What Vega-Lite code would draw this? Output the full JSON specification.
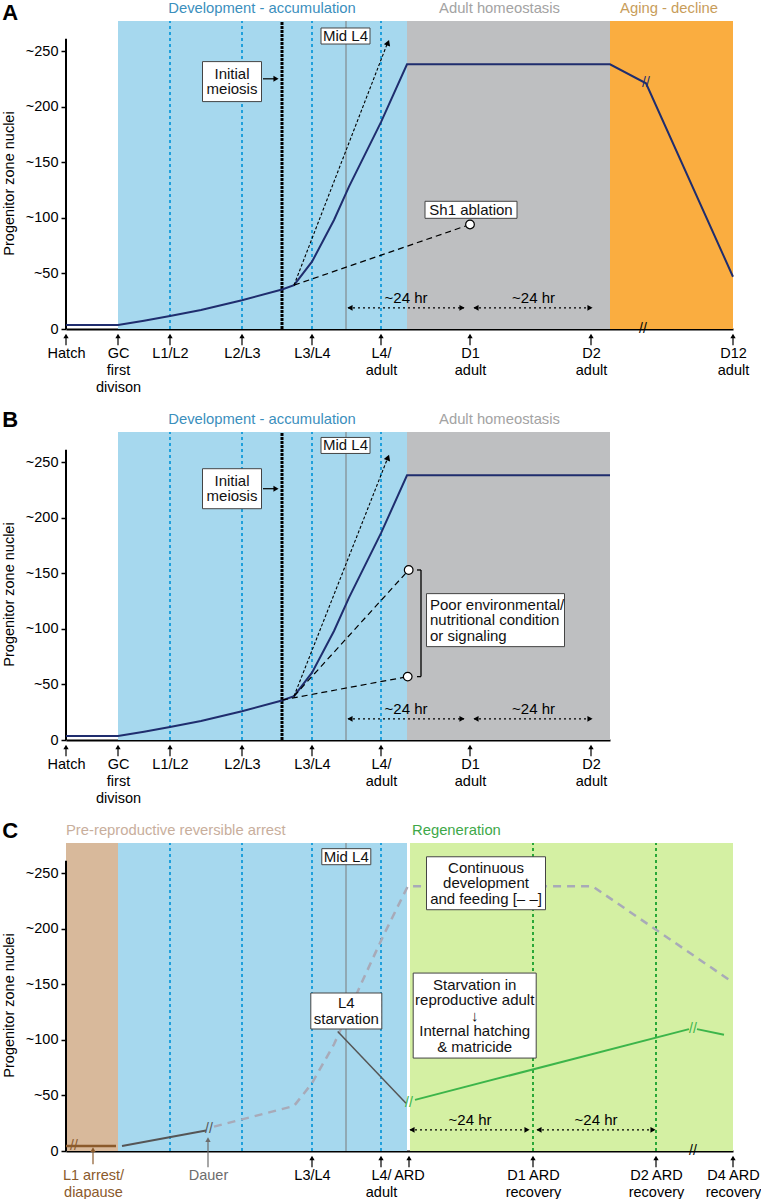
{
"$schema": "https://vega.github.io/schema/vega-lite/v6.json",
"padding": {"top": 0, "left": 1, "right": 0, "bottom": 0},
"spacing": 14,
"resolve": {"scale": {"x": "independent", "y": "independent", "color": "independent"}},
"config": {
  "view": {"stroke": null},
  "font": "Liberation Sans, DejaVu Sans",
  "axis": {"labelFont": "Liberation Sans, DejaVu Sans", "labelFontSize": 14.5, "labelColor": "#000", "titleFont": "Liberation Sans", "titleFontSize": 14.5, "titleFontWeight": "normal", "titleColor": "#000", "domainColor": "#000", "domainWidth": 2, "tickColor": "#000", "grid": false, "zindex": 1},
  "text": {"font": "Liberation Sans, DejaVu Sans"}
},
"vconcat": [
{
  "width": 667, "height": 308,
  "title": {"text": "A", "anchor": "start", "frame": "bounds", "fontSize": 22, "fontWeight": "bold", "font": "Liberation Sans", "color": "#000", "offset": 0, "dy": 24, "dx": 1},
  "layer": [
    {"data": {"values": [{"x": 52, "x2": 341, "stage": "dev"}, {"x": 341, "x2": 544, "stage": "adult"}, {"x": 544, "x2": 667, "stage": "aging"}]},
     "mark": {"type": "rect"},
     "encoding": {
       "x": {"field": "x", "type": "quantitative", "scale": {"domain": [0, 667], "nice": false, "zero": false},
             "axis": {"title": null, "values": [0, 52, 104, 176, 246, 315, 404, 525, 667], "labelExpr": "datum.value == 0 ? 'Hatch' : datum.value == 52 ? ['GC','first','divison'] : datum.value == 104 ? 'L1/L2' : datum.value == 176 ? 'L2/L3' : datum.value == 246 ? 'L3/L4' : datum.value == 315 ? ['L4/','adult'] : datum.value == 404 ? ['D1','adult'] : datum.value == 525 ? ['D2','adult'] : ['D12','adult']", "ticks": false, "labelOverlap": false, "labelFlush": false, "labelBound": false, "labelPadding": 17, "labelLineHeight": 17, "labelAngle": 0}},
       "x2": {"field": "x2"},
       "y": {"datum": 0, "type": "quantitative", "scale": {"domain": [0, 277], "nice": false},
             "axis": {"title": "Progenitor zone nuclei", "values": [0, 50, 100, 150, 200, 250], "labelExpr": "datum.value == 0 ? '0' : '~' + datum.value", "domain": false, "tickSize": 5, "tickWidth": 1.5, "labelPadding": 3, "titlePadding": 9, "titleY": 162}},
       "y2": {"datum": 277},
       "color": {"field": "stage", "type": "nominal", "scale": {"domain": ["arrest", "dev", "adult", "aging", "regen"], "range": ["#d8b99b", "#a6d8ee", "#bebfc1", "#faad40", "#d4f0a3"]}, "legend": null}
     }},
    {"data": {"values": [{"x": 104}, {"x": 176}, {"x": 246}, {"x": 315}]},
     "mark": {"type": "rule", "color": "#1fa0dc", "strokeWidth": 2, "strokeDash": [3, 3]},
     "encoding": {"x": {"field": "x", "type": "quantitative"}, "y": {"datum": 0}, "y2": {"datum": 277}}},
    {"data": {"values": [{"x": 216}]},
     "mark": {"type": "rule", "color": "#000", "strokeWidth": 3, "strokeDash": [3, 1]},
     "encoding": {"x": {"field": "x", "type": "quantitative"}, "y": {"datum": 0}, "y2": {"datum": 277}}},
    {"data": {"values": [{"x": 280}]},
     "mark": {"type": "rule", "color": "#7a7a7a", "strokeWidth": 1},
     "encoding": {"x": {"field": "x", "type": "quantitative"}, "y": {"datum": 0}, "y2": {"datum": 277}}},
    {"data": {"values": [{}]},
     "mark": {"type": "rule", "color": "#000", "strokeWidth": 2},
     "encoding": {"x": {"datum": 0}, "y": {"datum": 0}, "y2": {"datum": 261}}},
    {"data": {"values": [{"x": 0}, {"x": 52}, {"x": 104}, {"x": 176}, {"x": 246}, {"x": 315}, {"x": 404}, {"x": 525}, {"x": 667}]},
     "mark": {"type": "rule", "color": "#000", "strokeWidth": 1.2},
     "encoding": {"x": {"field": "x", "type": "quantitative"}, "y": {"datum": -14.7}, "y2": {"datum": -6.5}}},
    {"data": {"values": [{"x": 0}, {"x": 52}, {"x": 104}, {"x": 176}, {"x": 246}, {"x": 315}, {"x": 404}, {"x": 525}, {"x": 667}]},
     "mark": {"type": "point", "shape": "triangle-up", "size": 28, "filled": true, "color": "#000", "opacity": 1},
     "encoding": {"x": {"field": "x", "type": "quantitative"}, "y": {"datum": -6.3}}},
    {"data": {"values": [{"x": 0, "y": 3.5}, {"x": 52, "y": 3.5}, {"x": 78, "y": 7.5}, {"x": 104, "y": 11.7}, {"x": 135, "y": 17}, {"x": 176, "y": 25.9}, {"x": 216, "y": 35.5}, {"x": 228, "y": 39.4}, {"x": 246, "y": 60.5}, {"x": 268, "y": 98}, {"x": 283, "y": 128}, {"x": 315, "y": 186}, {"x": 341, "y": 238}, {"x": 544, "y": 238}, {"x": 580, "y": 221}, {"x": 667, "y": 47}]},
     "mark": {"type": "line", "color": "#1f2d6e", "strokeWidth": 2},
     "encoding": {"x": {"field": "x", "type": "quantitative"}, "y": {"field": "y", "type": "quantitative"}}},
    {"data": {"values": [{"x": 228, "y": 39.4, "x2": 321, "y2": 256}]},
     "mark": {"type": "rule", "color": "#000", "strokeWidth": 1.1, "strokeDash": [3, 2]},
     "encoding": {"x": {"field": "x", "type": "quantitative"}, "y": {"field": "y", "type": "quantitative"}, "x2": {"field": "x2"}, "y2": {"field": "y2"}}},
    {"data": {"values": [{"x": 228, "y": 39.4, "x2": 404, "y2": 94}]},
     "mark": {"type": "rule", "color": "#000", "strokeWidth": 1.2, "strokeDash": [6, 4]},
     "encoding": {"x": {"field": "x", "type": "quantitative"}, "y": {"field": "y", "type": "quantitative"}, "x2": {"field": "x2"}, "y2": {"field": "y2"}}},
    {"data": {"values": [{"x": 322, "y": 257.5}]},
     "mark": {"type": "point", "shape": "triangle-up", "angle": 21, "size": 45, "filled": true, "color": "#000", "opacity": 1},
     "encoding": {"x": {"field": "x", "type": "quantitative"}, "y": {"field": "y", "type": "quantitative"}}},
    {"data": {"values": [{"x": 404, "y": 94}]},
     "mark": {"type": "point", "shape": "circle", "size": 75, "filled": true, "fill": "#fff", "stroke": "#000", "strokeWidth": 1.2, "opacity": 1},
     "encoding": {"x": {"field": "x", "type": "quantitative"}, "y": {"field": "y", "type": "quantitative"}}},
    {"data": {"values": [{"x": 282, "x2": 398, "y": 19}, {"x": 408, "x2": 526, "y": 19}]},
     "mark": {"type": "rule", "color": "#000", "strokeWidth": 1.2, "strokeDash": [2, 3]},
     "encoding": {"x": {"field": "x", "type": "quantitative"}, "x2": {"field": "x2"}, "y": {"field": "y", "type": "quantitative"}}},
    {"data": {"values": [{"x": 284, "y": 19}, {"x": 410, "y": 19}]},
     "mark": {"type": "point", "shape": "triangle-left", "size": 35, "filled": true, "color": "#000", "opacity": 1},
     "encoding": {"x": {"field": "x", "type": "quantitative"}, "y": {"field": "y", "type": "quantitative"}}},
    {"data": {"values": [{"x": 396, "y": 19}, {"x": 524, "y": 19}, {"x": 210, "y": 225}]},
     "mark": {"type": "point", "shape": "triangle-right", "size": 35, "filled": true, "color": "#000", "opacity": 1},
     "encoding": {"x": {"field": "x", "type": "quantitative"}, "y": {"field": "y", "type": "quantitative"}}},
    {"data": {"values": [{"x": 197, "x2": 209, "y": 225}]},
     "mark": {"type": "rule", "color": "#000", "strokeWidth": 1.2},
     "encoding": {"x": {"field": "x", "type": "quantitative"}, "x2": {"field": "x2"}, "y": {"field": "y", "type": "quantitative"}}},
    {"data": {"values": [{"x": 340, "y": 27.5, "label": "~24 hr"}, {"x": 467.5, "y": 27.5, "label": "~24 hr"}]},
     "mark": {"type": "text", "fontSize": 15, "baseline": "middle", "align": "center", "color": "#000"},
     "encoding": {"x": {"field": "x", "type": "quantitative"}, "y": {"field": "y", "type": "quantitative"}, "text": {"field": "label"}}},
    {"data": {"values": [{"x": 166, "y": 222.5}]},
     "mark": {"type": "point", "shape": "M-1,-0.678H1V0.678H-1Z", "size": 3481, "filled": true, "fill": "#fff", "stroke": "#444", "strokeWidth": 1, "opacity": 1},
     "encoding": {"x": {"field": "x", "type": "quantitative"}, "y": {"field": "y", "type": "quantitative"}}},
    {"data": {"values": [{"x": 279.5, "y": 263.5}]},
     "mark": {"type": "point", "shape": "M-1,-0.327H1V0.327H-1Z", "size": 2401, "filled": true, "fill": "#fff", "stroke": "#444", "strokeWidth": 1, "opacity": 1},
     "encoding": {"x": {"field": "x", "type": "quantitative"}, "y": {"field": "y", "type": "quantitative"}}},
    {"data": {"values": [{"x": 405, "y": 107.2}]},
     "mark": {"type": "point", "shape": "M-1,-0.185H1V0.185H-1Z", "size": 8464, "filled": true, "fill": "#fff", "stroke": "#444", "strokeWidth": 1, "opacity": 1},
     "encoding": {"x": {"field": "x", "type": "quantitative"}, "y": {"field": "y", "type": "quantitative"}}},
    {"data": {"values": [{"x": 279.5, "y": 263.5, "label": "Mid L4"}, {"x": 405, "y": 107.2, "label": "Sh1 ablation"}]},
     "mark": {"type": "text", "fontSize": 15, "baseline": "middle", "align": "center", "color": "#111"},
     "encoding": {"x": {"field": "x", "type": "quantitative"}, "y": {"field": "y", "type": "quantitative"}, "text": {"field": "label"}}},
    {"data": {"values": [{"x": 166, "y": 222.5, "label": "Initial\nmeiosis"}]},
     "mark": {"type": "text", "fontSize": 15, "lineBreak": "\n", "lineHeight": 15.5, "dy": -7.75, "baseline": "middle", "align": "center", "color": "#111"},
     "encoding": {"x": {"field": "x", "type": "quantitative"}, "y": {"field": "y", "type": "quantitative"}, "text": {"field": "label"}}},
    {"data": {"values": [{"x": 196, "label": "Development - accumulation"}]},
     "mark": {"type": "text", "fontSize": 14.8, "baseline": "middle", "align": "center", "color": "#3b8fbd"},
     "encoding": {"x": {"field": "x", "type": "quantitative"}, "y": {"datum": 288}, "text": {"field": "label"}}},
    {"data": {"values": [{"x": 433.5, "label": "Adult homeostasis"}]},
     "mark": {"type": "text", "fontSize": 14.8, "baseline": "middle", "align": "center", "color": "#a3a3a3"},
     "encoding": {"x": {"field": "x", "type": "quantitative"}, "y": {"datum": 288}, "text": {"field": "label"}}},
    {"data": {"values": [{"x": 603, "label": "Aging - decline"}]},
     "mark": {"type": "text", "fontSize": 14.8, "baseline": "middle", "align": "center", "color": "#c89d5a"},
     "encoding": {"x": {"field": "x", "type": "quantitative"}, "y": {"datum": 288}, "text": {"field": "label"}}},
    {"data": {"values": [{"x": 580, "y": 221, "label": "//"}]},
     "mark": {"type": "text", "fontSize": 14, "baseline": "middle", "align": "center", "color": "#1f2d6e"},
     "encoding": {"x": {"field": "x", "type": "quantitative"}, "y": {"field": "y", "type": "quantitative"}, "text": {"field": "label"}}},
    {"data": {"values": [{"x": 577, "y": 0, "label": "//"}]},
     "mark": {"type": "text", "fontSize": 14, "baseline": "middle", "align": "center", "color": "#000"},
     "encoding": {"x": {"field": "x", "type": "quantitative"}, "y": {"field": "y", "type": "quantitative"}, "text": {"field": "label"}}}
  ]
},
{
  "width": 544, "height": 308,
  "title": {"text": "B", "anchor": "start", "frame": "bounds", "fontSize": 22, "fontWeight": "bold", "font": "Liberation Sans", "color": "#000", "offset": 0, "dy": 20, "dx": 1},
  "layer": [
    {"data": {"values": [{"x": 52, "x2": 341, "stage": "dev"}, {"x": 341, "x2": 544, "stage": "adult"}]},
     "mark": {"type": "rect"},
     "encoding": {
       "x": {"field": "x", "type": "quantitative", "scale": {"domain": [0, 544], "nice": false, "zero": false},
             "axis": {"title": null, "values": [0, 52, 104, 176, 246, 315, 404, 525], "labelExpr": "datum.value == 0 ? 'Hatch' : datum.value == 52 ? ['GC','first','divison'] : datum.value == 104 ? 'L1/L2' : datum.value == 176 ? 'L2/L3' : datum.value == 246 ? 'L3/L4' : datum.value == 315 ? ['L4/','adult'] : datum.value == 404 ? ['D1','adult'] : ['D2','adult']", "ticks": false, "labelOverlap": false, "labelFlush": false, "labelBound": false, "labelPadding": 17, "labelLineHeight": 17, "labelAngle": 0}},
       "x2": {"field": "x2"},
       "y": {"datum": 0, "type": "quantitative", "scale": {"domain": [0, 277], "nice": false},
             "axis": {"title": "Progenitor zone nuclei", "values": [0, 50, 100, 150, 200, 250], "labelExpr": "datum.value == 0 ? '0' : '~' + datum.value", "domain": false, "tickSize": 5, "tickWidth": 1.5, "labelPadding": 3, "titlePadding": 9, "titleY": 162}},
       "y2": {"datum": 277},
       "color": {"field": "stage", "type": "nominal", "scale": {"domain": ["arrest", "dev", "adult", "aging", "regen"], "range": ["#d8b99b", "#a6d8ee", "#bebfc1", "#faad40", "#d4f0a3"]}, "legend": null}
     }},
    {"data": {"values": [{"x": 104}, {"x": 176}, {"x": 246}, {"x": 315}]},
     "mark": {"type": "rule", "color": "#1fa0dc", "strokeWidth": 2, "strokeDash": [3, 3]},
     "encoding": {"x": {"field": "x", "type": "quantitative"}, "y": {"datum": 0}, "y2": {"datum": 277}}},
    {"data": {"values": [{"x": 216}]},
     "mark": {"type": "rule", "color": "#000", "strokeWidth": 3, "strokeDash": [3, 1]},
     "encoding": {"x": {"field": "x", "type": "quantitative"}, "y": {"datum": 0}, "y2": {"datum": 277}}},
    {"data": {"values": [{"x": 280}]},
     "mark": {"type": "rule", "color": "#7a7a7a", "strokeWidth": 1},
     "encoding": {"x": {"field": "x", "type": "quantitative"}, "y": {"datum": 0}, "y2": {"datum": 277}}},
    {"data": {"values": [{}]},
     "mark": {"type": "rule", "color": "#000", "strokeWidth": 2},
     "encoding": {"x": {"datum": 0}, "y": {"datum": 0}, "y2": {"datum": 261}}},
    {"data": {"values": [{"x": 0}, {"x": 52}, {"x": 104}, {"x": 176}, {"x": 246}, {"x": 315}, {"x": 404}, {"x": 525}]},
     "mark": {"type": "rule", "color": "#000", "strokeWidth": 1.2},
     "encoding": {"x": {"field": "x", "type": "quantitative"}, "y": {"datum": -14.7}, "y2": {"datum": -6.5}}},
    {"data": {"values": [{"x": 0}, {"x": 52}, {"x": 104}, {"x": 176}, {"x": 246}, {"x": 315}, {"x": 404}, {"x": 525}]},
     "mark": {"type": "point", "shape": "triangle-up", "size": 28, "filled": true, "color": "#000", "opacity": 1},
     "encoding": {"x": {"field": "x", "type": "quantitative"}, "y": {"datum": -6.3}}},
    {"data": {"values": [{"x": 0, "y": 3.5}, {"x": 52, "y": 3.5}, {"x": 78, "y": 7.5}, {"x": 104, "y": 11.7}, {"x": 135, "y": 17}, {"x": 176, "y": 25.9}, {"x": 216, "y": 35.5}, {"x": 228, "y": 39.4}, {"x": 246, "y": 60.5}, {"x": 268, "y": 98}, {"x": 283, "y": 128}, {"x": 315, "y": 186}, {"x": 341, "y": 238}, {"x": 544, "y": 238}]},
     "mark": {"type": "line", "color": "#1f2d6e", "strokeWidth": 2},
     "encoding": {"x": {"field": "x", "type": "quantitative"}, "y": {"field": "y", "type": "quantitative"}}},
    {"data": {"values": [{"x": 228, "y": 39.4, "x2": 321, "y2": 252}]},
     "mark": {"type": "rule", "color": "#000", "strokeWidth": 1.1, "strokeDash": [3, 2]},
     "encoding": {"x": {"field": "x", "type": "quantitative"}, "y": {"field": "y", "type": "quantitative"}, "x2": {"field": "x2"}, "y2": {"field": "y2"}}},
    {"data": {"values": [{"x": 228, "y": 39.4, "x2": 342.7, "y2": 152.9}, {"x": 216, "y": 36, "x2": 341.7, "y2": 57}]},
     "mark": {"type": "rule", "color": "#000", "strokeWidth": 1.2, "strokeDash": [6, 4]},
     "encoding": {"x": {"field": "x", "type": "quantitative"}, "y": {"field": "y", "type": "quantitative"}, "x2": {"field": "x2"}, "y2": {"field": "y2"}}},
    {"data": {"values": [{"x": 322, "y": 254}]},
     "mark": {"type": "point", "shape": "triangle-up", "angle": 21, "size": 45, "filled": true, "color": "#000", "opacity": 1},
     "encoding": {"x": {"field": "x", "type": "quantitative"}, "y": {"field": "y", "type": "quantitative"}}},
    {"data": {"values": [{"x": 342.7, "y": 152.9}, {"x": 341.7, "y": 57}]},
     "mark": {"type": "point", "shape": "circle", "size": 75, "filled": true, "fill": "#fff", "stroke": "#000", "strokeWidth": 1.2, "opacity": 1},
     "encoding": {"x": {"field": "x", "type": "quantitative"}, "y": {"field": "y", "type": "quantitative"}}},
    {"data": {"values": [{"x": 355, "y": 57, "x2": 355, "y2": 152.9}, {"x": 351, "y": 152.9, "x2": 355, "y2": 152.9}, {"x": 351, "y": 57, "x2": 355, "y2": 57}]},
     "mark": {"type": "rule", "color": "#000", "strokeWidth": 1.3},
     "encoding": {"x": {"field": "x", "type": "quantitative"}, "y": {"field": "y", "type": "quantitative"}, "x2": {"field": "x2"}, "y2": {"field": "y2"}}},
    {"data": {"values": [{"x": 282, "x2": 398, "y": 19}, {"x": 408, "x2": 526, "y": 19}]},
     "mark": {"type": "rule", "color": "#000", "strokeWidth": 1.2, "strokeDash": [2, 3]},
     "encoding": {"x": {"field": "x", "type": "quantitative"}, "x2": {"field": "x2"}, "y": {"field": "y", "type": "quantitative"}}},
    {"data": {"values": [{"x": 284, "y": 19}, {"x": 410, "y": 19}]},
     "mark": {"type": "point", "shape": "triangle-left", "size": 35, "filled": true, "color": "#000", "opacity": 1},
     "encoding": {"x": {"field": "x", "type": "quantitative"}, "y": {"field": "y", "type": "quantitative"}}},
    {"data": {"values": [{"x": 396, "y": 19}, {"x": 524, "y": 19}, {"x": 210, "y": 226}]},
     "mark": {"type": "point", "shape": "triangle-right", "size": 35, "filled": true, "color": "#000", "opacity": 1},
     "encoding": {"x": {"field": "x", "type": "quantitative"}, "y": {"field": "y", "type": "quantitative"}}},
    {"data": {"values": [{"x": 197, "x2": 209, "y": 226}]},
     "mark": {"type": "rule", "color": "#000", "strokeWidth": 1.2},
     "encoding": {"x": {"field": "x", "type": "quantitative"}, "x2": {"field": "x2"}, "y": {"field": "y", "type": "quantitative"}}},
    {"data": {"values": [{"x": 340, "y": 27.5, "label": "~24 hr"}, {"x": 467.5, "y": 27.5, "label": "~24 hr"}]},
     "mark": {"type": "text", "fontSize": 15, "baseline": "middle", "align": "center", "color": "#000"},
     "encoding": {"x": {"field": "x", "type": "quantitative"}, "y": {"field": "y", "type": "quantitative"}, "text": {"field": "label"}}},
    {"data": {"values": [{"x": 166, "y": 226}]},
     "mark": {"type": "point", "shape": "M-1,-0.678H1V0.678H-1Z", "size": 3481, "filled": true, "fill": "#fff", "stroke": "#444", "strokeWidth": 1, "opacity": 1},
     "encoding": {"x": {"field": "x", "type": "quantitative"}, "y": {"field": "y", "type": "quantitative"}}},
    {"data": {"values": [{"x": 279.5, "y": 264.9}]},
     "mark": {"type": "point", "shape": "M-1,-0.327H1V0.327H-1Z", "size": 2401, "filled": true, "fill": "#fff", "stroke": "#444", "strokeWidth": 1, "opacity": 1},
     "encoding": {"x": {"field": "x", "type": "quantitative"}, "y": {"field": "y", "type": "quantitative"}}},
    {"data": {"values": [{"x": 429.5, "y": 107.8}]},
     "mark": {"type": "point", "shape": "M-1,-0.384H1V0.384H-1Z", "size": 19044, "filled": true, "fill": "#fff", "stroke": "#444", "strokeWidth": 1, "opacity": 1},
     "encoding": {"x": {"field": "x", "type": "quantitative"}, "y": {"field": "y", "type": "quantitative"}}},
    {"data": {"values": [{"x": 279.5, "y": 264.9, "label": "Mid L4"}]},
     "mark": {"type": "text", "fontSize": 15, "baseline": "middle", "align": "center", "color": "#111"},
     "encoding": {"x": {"field": "x", "type": "quantitative"}, "y": {"field": "y", "type": "quantitative"}, "text": {"field": "label"}}},
    {"data": {"values": [{"x": 166, "y": 226, "label": "Initial\nmeiosis"}]},
     "mark": {"type": "text", "fontSize": 15, "lineBreak": "\n", "lineHeight": 15.5, "dy": -7.75, "baseline": "middle", "align": "center", "color": "#111"},
     "encoding": {"x": {"field": "x", "type": "quantitative"}, "y": {"field": "y", "type": "quantitative"}, "text": {"field": "label"}}},
    {"data": {"values": [{"x": 364, "y": 107.5, "label": "Poor environmental/\nnutritional condition\nor signaling"}]},
     "mark": {"type": "text", "fontSize": 15, "lineBreak": "\n", "lineHeight": 15.5, "dy": -15.5, "baseline": "middle", "align": "left", "color": "#111"},
     "encoding": {"x": {"field": "x", "type": "quantitative"}, "y": {"field": "y", "type": "quantitative"}, "text": {"field": "label"}}},
    {"data": {"values": [{"x": 196, "label": "Development - accumulation"}]},
     "mark": {"type": "text", "fontSize": 14.8, "baseline": "middle", "align": "center", "color": "#3b8fbd"},
     "encoding": {"x": {"field": "x", "type": "quantitative"}, "y": {"datum": 288}, "text": {"field": "label"}}},
    {"data": {"values": [{"x": 433.5, "label": "Adult homeostasis"}]},
     "mark": {"type": "text", "fontSize": 14.8, "baseline": "middle", "align": "center", "color": "#a3a3a3"},
     "encoding": {"x": {"field": "x", "type": "quantitative"}, "y": {"datum": 288}, "text": {"field": "label"}}}
  ]
},
{
  "width": 667, "height": 308,
  "title": {"text": "C", "anchor": "start", "frame": "bounds", "fontSize": 22, "fontWeight": "bold", "font": "Liberation Sans", "color": "#000", "offset": 0, "dy": 20, "dx": 1},
  "layer": [
    {"data": {"values": [{"x": 0, "x2": 52, "stage": "arrest"}, {"x": 52, "x2": 341, "stage": "dev"}, {"x": 344, "x2": 667, "stage": "regen"}]},
     "mark": {"type": "rect"},
     "encoding": {
       "x": {"field": "x", "type": "quantitative", "scale": {"domain": [0, 667], "nice": false, "zero": false},
             "axis": {"title": null, "values": [27, 142, 246, 315, 343, 467, 590, 667], "labelExpr": "datum.value == 27 ? ['L1 arrest/','diapause'] : datum.value == 142 ? 'Dauer' : datum.value == 246 ? 'L3/L4' : datum.value == 315 ? ['L4/','adult'] : datum.value == 343 ? 'ARD' : datum.value == 467 ? ['D1 ARD','recovery'] : datum.value == 590 ? ['D2 ARD','recovery'] : ['D4 ARD','recovery']", "labelColor": {"condition": [{"test": "datum.value == 27", "value": "#8b5a2b"}, {"test": "datum.value == 142", "value": "#6d6d6d"}], "value": "#000"}, "ticks": false, "labelOverlap": false, "labelFlush": false, "labelBound": false, "labelPadding": 17, "labelLineHeight": 17, "labelAngle": 0}},
       "x2": {"field": "x2"},
       "y": {"datum": 0, "type": "quantitative", "scale": {"domain": [0, 277], "nice": false},
             "axis": {"title": "Progenitor zone nuclei", "values": [0, 50, 100, 150, 200, 250], "labelExpr": "datum.value == 0 ? '0' : '~' + datum.value", "domain": false, "tickSize": 5, "tickWidth": 1.5, "labelPadding": 3, "titlePadding": 9, "titleY": 162}},
       "y2": {"datum": 277},
       "color": {"field": "stage", "type": "nominal", "scale": {"domain": ["arrest", "dev", "adult", "aging", "regen"], "range": ["#d8b99b", "#a6d8ee", "#bebfc1", "#faad40", "#d4f0a3"]}, "legend": null}
     }},
    {"data": {"values": [{"x": 104}, {"x": 176}, {"x": 246}, {"x": 315}]},
     "mark": {"type": "rule", "color": "#1fa0dc", "strokeWidth": 2, "strokeDash": [3, 3]},
     "encoding": {"x": {"field": "x", "type": "quantitative"}, "y": {"datum": 0}, "y2": {"datum": 277}}},
    {"data": {"values": [{"x": 467}, {"x": 590}]},
     "mark": {"type": "rule", "color": "#2aa838", "strokeWidth": 2, "strokeDash": [3, 3]},
     "encoding": {"x": {"field": "x", "type": "quantitative"}, "y": {"datum": 0}, "y2": {"datum": 277}}},
    {"data": {"values": [{"x": 280}]},
     "mark": {"type": "rule", "color": "#7a7a7a", "strokeWidth": 1},
     "encoding": {"x": {"field": "x", "type": "quantitative"}, "y": {"datum": 0}, "y2": {"datum": 277}}},
    {"data": {"values": [{}]},
     "mark": {"type": "rule", "color": "#000", "strokeWidth": 2},
     "encoding": {"x": {"datum": 0}, "y": {"datum": 0}, "y2": {"datum": 261}}},
    {"data": {"values": [{"x": 246}, {"x": 315}, {"x": 343}, {"x": 467}, {"x": 590}, {"x": 667}]},
     "mark": {"type": "rule", "color": "#000", "strokeWidth": 1.2},
     "encoding": {"x": {"field": "x", "type": "quantitative"}, "y": {"datum": -14.7}, "y2": {"datum": -6.5}}},
    {"data": {"values": [{"x": 246}, {"x": 315}, {"x": 343}, {"x": 467}, {"x": 590}, {"x": 667}]},
     "mark": {"type": "point", "shape": "triangle-up", "size": 28, "filled": true, "color": "#000", "opacity": 1},
     "encoding": {"x": {"field": "x", "type": "quantitative"}, "y": {"datum": -6.3}}},
    {"data": {"values": [{"x": 27}]},
     "mark": {"type": "rule", "color": "#8b5a2b", "strokeWidth": 1.2},
     "encoding": {"x": {"field": "x", "type": "quantitative"}, "y": {"datum": -12}, "y2": {"datum": 1}}},
    {"data": {"values": [{"x": 27}]},
     "mark": {"type": "point", "shape": "triangle-up", "size": 28, "filled": true, "color": "#8b5a2b", "opacity": 1},
     "encoding": {"x": {"field": "x", "type": "quantitative"}, "y": {"datum": 1.2}}},
    {"data": {"values": [{"x": 142}]},
     "mark": {"type": "rule", "color": "#6d6d6d", "strokeWidth": 1.2},
     "encoding": {"x": {"field": "x", "type": "quantitative"}, "y": {"datum": -14.7}, "y2": {"datum": 10}}},
    {"data": {"values": [{"x": 142}]},
     "mark": {"type": "point", "shape": "triangle-up", "size": 28, "filled": true, "color": "#6d6d6d", "opacity": 1},
     "encoding": {"x": {"field": "x", "type": "quantitative"}, "y": {"datum": 10.2}}},
    {"data": {"values": [{"x": 148, "y": 21.9}, {"x": 228, "y": 40.5}, {"x": 246, "y": 61}, {"x": 268, "y": 96}, {"x": 297, "y": 154}, {"x": 317, "y": 193}, {"x": 341.7, "y": 238}, {"x": 526.7, "y": 238}, {"x": 663, "y": 154}]},
     "mark": {"type": "line", "color": "#a8aab8", "strokeWidth": 2.5, "strokeDash": [8, 6]},
     "encoding": {"x": {"field": "x", "type": "quantitative"}, "y": {"field": "y", "type": "quantitative"}}},
    {"data": {"values": [{"x": 0, "y": 4.5}, {"x": 50, "y": 4.5}]},
     "mark": {"type": "line", "color": "#8b5a2b", "strokeWidth": 2.5},
     "encoding": {"x": {"field": "x", "type": "quantitative"}, "y": {"field": "y", "type": "quantitative"}}},
    {"data": {"values": [{"x": 56, "y": 4.5}, {"x": 140, "y": 18.5}]},
     "mark": {"type": "line", "color": "#555", "strokeWidth": 2},
     "encoding": {"x": {"field": "x", "type": "quantitative"}, "y": {"field": "y", "type": "quantitative"}}},
    {"data": {"values": [{"x": 271.7, "y": 107.5}, {"x": 340, "y": 43}]},
     "mark": {"type": "line", "color": "#555", "strokeWidth": 1.5},
     "encoding": {"x": {"field": "x", "type": "quantitative"}, "y": {"field": "y", "type": "quantitative"}}},
    {"data": {"values": [{"x": 349, "y": 46, "seg": 1}, {"x": 623, "y": 109.6, "seg": 1}, {"x": 631, "y": 109.6, "seg": 2}, {"x": 658, "y": 104.5, "seg": 2}]},
     "mark": {"type": "line", "color": "#3cb54a", "strokeWidth": 2},
     "encoding": {"x": {"field": "x", "type": "quantitative"}, "y": {"field": "y", "type": "quantitative"}, "detail": {"field": "seg", "type": "nominal"}}},
    {"data": {"values": [{"x": 344, "x2": 463, "y": 19}, {"x": 471, "x2": 589, "y": 19}]},
     "mark": {"type": "rule", "color": "#000", "strokeWidth": 1.2, "strokeDash": [2, 3]},
     "encoding": {"x": {"field": "x", "type": "quantitative"}, "x2": {"field": "x2"}, "y": {"field": "y", "type": "quantitative"}}},
    {"data": {"values": [{"x": 346, "y": 19}, {"x": 473, "y": 19}]},
     "mark": {"type": "point", "shape": "triangle-left", "size": 35, "filled": true, "color": "#000", "opacity": 1},
     "encoding": {"x": {"field": "x", "type": "quantitative"}, "y": {"field": "y", "type": "quantitative"}}},
    {"data": {"values": [{"x": 461, "y": 19}, {"x": 587, "y": 19}]},
     "mark": {"type": "point", "shape": "triangle-right", "size": 35, "filled": true, "color": "#000", "opacity": 1},
     "encoding": {"x": {"field": "x", "type": "quantitative"}, "y": {"field": "y", "type": "quantitative"}}},
    {"data": {"values": [{"x": 404, "y": 28, "label": "~24 hr"}, {"x": 530, "y": 28, "label": "~24 hr"}]},
     "mark": {"type": "text", "fontSize": 15, "baseline": "middle", "align": "center", "color": "#000"},
     "encoding": {"x": {"field": "x", "type": "quantitative"}, "y": {"field": "y", "type": "quantitative"}, "text": {"field": "label"}}},
    {"data": {"values": [{"x": 280.3, "y": 264.7}]},
     "mark": {"type": "point", "shape": "M-1,-0.327H1V0.327H-1Z", "size": 2401, "filled": true, "fill": "#fff", "stroke": "#444", "strokeWidth": 1, "opacity": 1},
     "encoding": {"x": {"field": "x", "type": "quantitative"}, "y": {"field": "y", "type": "quantitative"}}},
    {"data": {"values": [{"x": 280.3, "y": 125.9}]},
     "mark": {"type": "point", "shape": "M-1,-0.507H1V0.507H-1Z", "size": 5041, "filled": true, "fill": "#fff", "stroke": "#444", "strokeWidth": 1, "opacity": 1},
     "encoding": {"x": {"field": "x", "type": "quantitative"}, "y": {"field": "y", "type": "quantitative"}}},
    {"data": {"values": [{"x": 420, "y": 240.8}]},
     "mark": {"type": "point", "shape": "M-1,-0.445H1V0.445H-1Z", "size": 14161, "filled": true, "fill": "#fff", "stroke": "#444", "strokeWidth": 1, "opacity": 1},
     "encoding": {"x": {"field": "x", "type": "quantitative"}, "y": {"field": "y", "type": "quantitative"}}},
    {"data": {"values": [{"x": 408.7, "y": 121.8}]},
     "mark": {"type": "point", "shape": "M-1,-0.691H1V0.691H-1Z", "size": 15129, "filled": true, "fill": "#fff", "stroke": "#444", "strokeWidth": 1, "opacity": 1},
     "encoding": {"x": {"field": "x", "type": "quantitative"}, "y": {"field": "y", "type": "quantitative"}}},
    {"data": {"values": [{"x": 280.3, "y": 264.7, "label": "Mid L4"}]},
     "mark": {"type": "text", "fontSize": 15, "baseline": "middle", "align": "center", "color": "#111"},
     "encoding": {"x": {"field": "x", "type": "quantitative"}, "y": {"field": "y", "type": "quantitative"}, "text": {"field": "label"}}},
    {"data": {"values": [{"x": 280.3, "y": 125.9, "label": "L4\nstarvation"}]},
     "mark": {"type": "text", "fontSize": 15, "lineBreak": "\n", "lineHeight": 15.5, "dy": -7.75, "baseline": "middle", "align": "center", "color": "#111"},
     "encoding": {"x": {"field": "x", "type": "quantitative"}, "y": {"field": "y", "type": "quantitative"}, "text": {"field": "label"}}},
    {"data": {"values": [{"x": 420, "y": 240.8, "label": "Continuous\ndevelopment\nand feeding [– –]"}]},
     "mark": {"type": "text", "fontSize": 15, "lineBreak": "\n", "lineHeight": 15.5, "dy": -15.5, "baseline": "middle", "align": "center", "color": "#111"},
     "encoding": {"x": {"field": "x", "type": "quantitative"}, "y": {"field": "y", "type": "quantitative"}, "text": {"field": "label"}}},
    {"data": {"values": [{"x": 408.7, "y": 121.8, "label": "Starvation in\nreproductive adult\n↓\nInternal hatching\n& matricide"}]},
     "mark": {"type": "text", "fontSize": 15, "lineBreak": "\n", "lineHeight": 15.5, "dy": -31, "baseline": "middle", "align": "center", "color": "#111"},
     "encoding": {"x": {"field": "x", "type": "quantitative"}, "y": {"field": "y", "type": "quantitative"}, "text": {"field": "label"}}},
    {"data": {"values": [{"x": 0, "label": "Pre-reproductive reversible arrest"}]},
     "mark": {"type": "text", "fontSize": 14.8, "baseline": "middle", "align": "left", "color": "#c8ae9c"},
     "encoding": {"x": {"field": "x", "type": "quantitative"}, "y": {"datum": 288}, "text": {"field": "label"}}},
    {"data": {"values": [{"x": 346, "label": "Regeneration"}]},
     "mark": {"type": "text", "fontSize": 14.8, "baseline": "middle", "align": "left", "color": "#3ea849"},
     "encoding": {"x": {"field": "x", "type": "quantitative"}, "y": {"datum": 288}, "text": {"field": "label"}}},
    {"data": {"values": [{"x": 8, "y": 4.5, "label": "//"}]},
     "mark": {"type": "text", "fontSize": 14, "baseline": "middle", "align": "center", "color": "#8b5a2b"},
     "encoding": {"x": {"field": "x", "type": "quantitative"}, "y": {"field": "y", "type": "quantitative"}, "text": {"field": "label"}}},
    {"data": {"values": [{"x": 143, "y": 20, "label": "//"}]},
     "mark": {"type": "text", "fontSize": 14, "baseline": "middle", "align": "center", "color": "#555"},
     "encoding": {"x": {"field": "x", "type": "quantitative"}, "y": {"field": "y", "type": "quantitative"}, "text": {"field": "label"}}},
    {"data": {"values": [{"x": 343, "y": 43, "label": "//"}, {"x": 627, "y": 109.6, "label": "//"}]},
     "mark": {"type": "text", "fontSize": 14, "baseline": "middle", "align": "center", "color": "#3cb54a"},
     "encoding": {"x": {"field": "x", "type": "quantitative"}, "y": {"field": "y", "type": "quantitative"}, "text": {"field": "label"}}},
    {"data": {"values": [{"x": 627, "y": 0, "label": "//"}]},
     "mark": {"type": "text", "fontSize": 14, "baseline": "middle", "align": "center", "color": "#000"},
     "encoding": {"x": {"field": "x", "type": "quantitative"}, "y": {"field": "y", "type": "quantitative"}, "text": {"field": "label"}}}
  ]
}
]
}
